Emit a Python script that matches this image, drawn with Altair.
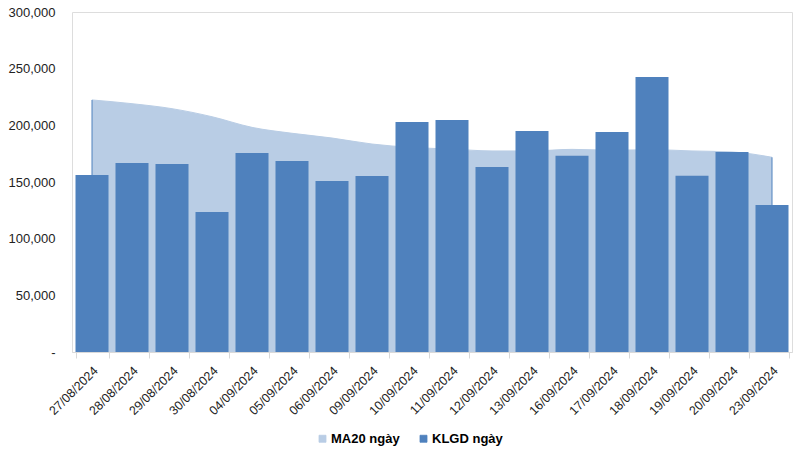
import altair as alt
import pandas as pd

dates = ["27/08/2024", "28/08/2024", "29/08/2024", "30/08/2024", "04/09/2024",
         "05/09/2024", "06/09/2024", "09/09/2024", "10/09/2024", "11/09/2024",
         "12/09/2024", "13/09/2024", "16/09/2024", "17/09/2024", "18/09/2024",
         "19/09/2024", "20/09/2024", "23/09/2024"]
klgd = [156200, 166800, 165900, 123500, 175600, 168500, 150900, 155300, 202900,
        204700, 163200, 195000, 173200, 194100, 242600, 155600, 176500, 129700]
ma20 = [222400, 219100, 214700, 207600, 198200, 193000, 188800, 183500, 180500,
        179000, 177400, 177400, 178800, 178000, 178500, 177400, 176500, 171800]
series = ["MA20 ngày", "KLGD ngày"]

df = pd.DataFrame({"date": dates, "klgd": klgd, "ma20": ma20})
df["s_ma"] = series[0]
df["s_kl"] = series[1]
df["zero"] = 0
edges = df.iloc[[0, len(df) - 1]]

FONT = "Liberation Sans"
LIGHT = "#B9CDE5"
DARK = "#4F81BD"

x = alt.X("date:N", sort=dates, title=None,
          scale=alt.Scale(paddingInner=0.175, paddingOuter=0.0875),
          axis=alt.Axis(labelAngle=-45, labelFont=FONT, labelFontSize=12.5,
                        labelColor="#222222", domainColor="#D9D9D9",
                        tickColor="#D9D9D9", tickSize=6, tickBand="extent",
                        labelPadding=6, labelOffset=-1, grid=False))
y_scale = alt.Scale(domain=[0, 300000], nice=False)
cscale = alt.Scale(domain=series, range=[LIGHT, DARK])
legend = alt.Legend(orient="none", legendX=244, legendY=420,
                    direction="horizontal", title=None,
                    symbolType="square", symbolSize=49,
                    symbolStrokeColor=DARK, symbolStrokeWidth=0.8,
                    labelFont=FONT, labelFontSize=13,
                    labelFontWeight="bold", labelColor="#000000",
                    columnPadding=17, labelOffset=2)

area = alt.Chart(df).mark_area(interpolate="monotone",
                               line={"color": DARK, "strokeWidth": 1},
                               opacity=1).encode(
    x=x,
    y=alt.Y("ma20:Q", scale=y_scale, title=None,
            axis=alt.Axis(values=[0, 50000, 100000, 150000, 200000, 250000, 300000],
                          labelExpr="datum.value == 0 ? '-' : format(datum.value, ',')",
                          labelFont=FONT, labelFontSize=13, labelColor="#222222",
                          domain=False, ticks=False, grid=False, labelPadding=17)),
    color=alt.Color("s_ma:N", scale=cscale, legend=legend, title=None),
)

edge = alt.Chart(edges).mark_rule(color=DARK, strokeWidth=1).encode(
    x=alt.X("date:N", sort=dates, bandPosition=0.5),
    y=alt.Y("zero:Q", scale=y_scale),
    y2="ma20:Q",
)

bars = alt.Chart(df).mark_bar().encode(
    x=x,
    y=alt.Y("klgd:Q", scale=y_scale),
    color=alt.Color("s_kl:N", scale=cscale, legend=legend, title=None),
)

chart = alt.layer(area, edge, bars).properties(
    width=720, height=340,
    padding={"left": 72, "top": 12, "right": 11, "bottom": 100},
    autosize=alt.AutoSizeParams(type="none"),
).configure_view(stroke=None).configure(background="white")

chart.save("out.html", embed_options={"renderer": "svg", "actions": False})
